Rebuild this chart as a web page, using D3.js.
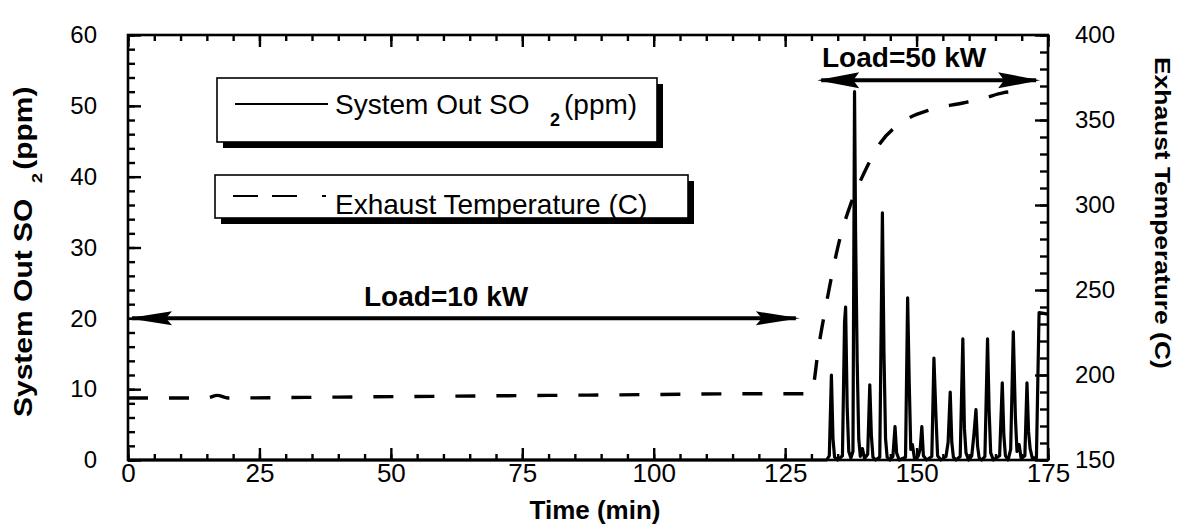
<!DOCTYPE html>
<html>
<head>
<meta charset="utf-8">
<script src="https://cdn.jsdelivr.net/npm/d3@7"></script>
<style>
  html, body { margin: 0; padding: 0; background: #fff; }
  svg { display: block; font-family: Arial, "Liberation Sans", Helvetica, sans-serif; }
</style>
</head>
<body>
<svg id="chart" width="1185" height="531"></svg>
<script>
// ---- data -------------------------------------------------------------
const timeTicks = [0, 25, 50, 75, 100, 125, 150, 175];
const so2Ticks  = [0, 10, 20, 30, 40, 50, 60];
const tempTicks = [150, 200, 250, 300, 350, 400];

// SO2 at the system outlet (ppm) against time (min)
const so2Time = [0, 132.9, 133.4, 133.8, 134.1, 134.4, 135.0,
  135.9, 136.3, 136.5, 136.8, 137.1, 137.5,
  137.9, 138.2, 138.4, 138.7, 139.0, 139.3, 139.7, 140.1,
  140.7, 141.1, 141.4, 141.7, 142.2,
  143.0, 143.5, 143.8, 144.1, 144.4, 144.9,
  145.5, 145.9, 146.2, 146.7,
  147.9, 148.3, 148.6, 148.9, 149.2, 149.6,
  150.3, 150.7, 151.0, 151.3, 151.9,
  152.9, 153.3, 153.7, 154.0, 154.6,
  155.6, 156.0, 156.4, 156.7, 157.0, 157.5,
  158.3, 158.8, 159.1, 159.4, 159.9,
  160.5, 160.9, 161.3, 161.6, 161.9, 162.4,
  163.0, 163.5, 163.8, 164.1, 164.6,
  165.8, 166.3, 166.6, 166.9, 167.4,
  167.9, 168.4, 168.8, 169.1, 169.5, 169.9,
  170.6, 171.0, 171.3, 171.6, 172.0,
  172.8, 173.3, 175.0];
const so2Ppm = [0, 0, 0.6, 12.0, 3.0, 0.4, 0,
  0.6, 19.5, 21.6, 7.5, 1.2, 0.3,
  1.2, 52.0, 32.0, 14.0, 3.0, 0.5, 1.6, 0.2,
  0.8, 10.6, 3.5, 0.4, 0,
  0.4, 34.9, 15.0, 3.0, 0.4, 0,
  0.5, 4.7, 1.0, 0,
  0.4, 22.9, 11.0, 1.5, 2.2, 0.2,
  0.5, 1.6, 4.7, 0.6, 0,
  0.5, 14.4, 6.0, 0.6, 0,
  0.5, 2.5, 9.6, 2.5, 0.4, 0,
  0.5, 17.1, 4.5, 1.0, 0,
  0.6, 3.5, 7.1, 2.0, 0.3, 0,
  0.5, 17.1, 7.0, 1.0, 0,
  0.6, 10.9, 3.5, 0.6, 0,
  1.5, 18.1, 6.0, 1.2, 2.2, 0.2,
  0.6, 10.9, 4.0, 1.6, 0.3,
  0.3, 20.8, 20.6];

// Exhaust temperature (C) against time (min)
const tempTime = [0, 15, 17, 19, 40, 60, 80, 100, 120, 129.5,
  130.3, 131.3, 132.6, 133.9, 135.4, 137.3, 140.2, 143.0, 146.9,
  152.6, 158.8, 163.0, 166.4, 170.0];
const tempC = [186.5, 186.5, 188, 186.5, 187, 187.5, 188, 188.5, 189, 189,
  193, 215, 238, 259, 280, 299, 320, 336, 348,
  356, 360, 363, 366, 367];

// ---- layout -----------------------------------------------------------
const svg = d3.select("#chart");
const plotLeft = 128, plotRight = 1048, plotTop = 35, plotBottom = 460;

const x  = d3.scaleLinear().domain([0, 175]).range([plotLeft, plotRight]);
const yL = d3.scaleLinear().domain([0, 60]).range([plotBottom, plotTop]);
const yR = d3.scaleLinear().domain([150, 400]).range([plotBottom, plotTop]);

const minor = (a, b, step) => d3.range(a, b + 1e-9, step);

function styleAxis(g, fontSize) {
  g.select(".domain").remove();
  g.selectAll(".tick line").attr("stroke", "#000").attr("stroke-width", 2.4);
  g.selectAll(".tick text").attr("fill", "#000")
    .style("font-size", fontSize + "px")
    .style("font-family", "Arial, 'Liberation Sans', Helvetica, sans-serif");
}

// bottom axis
svg.append("g").attr("transform", `translate(0,${plotBottom})`)
  .call(d3.axisBottom(x).tickValues(minor(0, 175, 5)).tickFormat("").tickSize(-6).tickSizeOuter(0))
  .call(g => styleAxis(g, 26));
svg.append("g").attr("transform", `translate(0,${plotBottom})`)
  .call(d3.axisBottom(x).tickValues(timeTicks).tickFormat(d3.format("d")).tickSize(-12).tickPadding(4).tickSizeOuter(0))
  .call(g => styleAxis(g, 26));

// top axis (ticks only)
svg.append("g").attr("transform", `translate(0,${plotTop})`)
  .call(d3.axisTop(x).tickValues(minor(0, 175, 5)).tickFormat("").tickSize(-6).tickSizeOuter(0))
  .call(g => styleAxis(g, 26));
svg.append("g").attr("transform", `translate(0,${plotTop})`)
  .call(d3.axisTop(x).tickValues(timeTicks).tickFormat("").tickSize(-12).tickSizeOuter(0))
  .call(g => styleAxis(g, 26));

// left axis
svg.append("g").attr("transform", `translate(${plotLeft},0)`)
  .call(d3.axisLeft(yL).tickValues(minor(0, 60, 2)).tickFormat("").tickSize(-7).tickSizeOuter(0))
  .call(g => styleAxis(g, 24));
svg.append("g").attr("transform", `translate(${plotLeft},0)`)
  .call(d3.axisLeft(yL).tickValues(so2Ticks).tickFormat(d3.format("d")).tickSize(-13).tickPadding(31).tickSizeOuter(0))
  .call(g => styleAxis(g, 24));

// right axis
svg.append("g").attr("transform", `translate(${plotRight},0)`)
  .call(d3.axisRight(yR).tickValues(minor(150, 400, 10)).tickFormat("").tickSize(-8).tickSizeOuter(0))
  .call(g => styleAxis(g, 24));
svg.append("g").attr("transform", `translate(${plotRight},0)`)
  .call(d3.axisRight(yR).tickValues(tempTicks).tickFormat(d3.format("d")).tickSize(-13).tickPadding(27).tickSizeOuter(0))
  .call(g => styleAxis(g, 24));

// frame
svg.append("rect")
  .attr("x", plotLeft).attr("y", plotTop)
  .attr("width", plotRight - plotLeft).attr("height", plotBottom - plotTop)
  .attr("fill", "none").attr("stroke", "#000").attr("stroke-width", 2.6);

// ---- series -----------------------------------------------------------
const tempLine = d3.line()
  .x((d, i) => x(tempTime[i]))
  .y(d => yR(d))
  .curve(d3.curveMonotoneX);
svg.append("path")
  .attr("d", tempLine(tempC))
  .attr("fill", "none").attr("stroke", "#000")
  .attr("stroke-width", 3.4).attr("stroke-dasharray", "20,21");

const so2Line = d3.line()
  .x((d, i) => x(so2Time[i]))
  .y(d => yL(d));
svg.append("path")
  .attr("d", so2Line(so2Ppm))
  .attr("fill", "none").attr("stroke", "#000")
  .attr("stroke-width", 3.2).attr("stroke-linejoin", "round");

// ---- load annotations -------------------------------------------------
function doubleArrow(t0, t1, yVal, headLen, headHalf) {
  const xa = x(t0), xb = x(t1), yy = yL(yVal);
  const g = svg.append("g");
  g.append("line").attr("x1", xa + 4).attr("x2", xb - 4).attr("y1", yy).attr("y2", yy)
    .attr("stroke", "#000").attr("stroke-width", 4);
  g.append("path").attr("d",
      `M${xa},${yy} L${xa + headLen},${yy - headHalf} L${xa + headLen - 6},${yy} L${xa + headLen},${yy + headHalf} Z`)
    .attr("fill", "#000");
  g.append("path").attr("d",
      `M${xb},${yy} L${xb - headLen},${yy - headHalf} L${xb - headLen + 6},${yy} L${xb - headLen},${yy + headHalf} Z`)
    .attr("fill", "#000");
}
doubleArrow(0, 127.8, 20, 44, 7);
doubleArrow(131.1, 173.5, 53.6, 42, 8);

svg.append("text").attr("x", 364).attr("y", 306)
  .style("font-size", "28px").style("font-weight", "bold").text("Load=10 kW");
svg.append("text").attr("x", 822).attr("y", 67)
  .style("font-size", "28px").style("font-weight", "bold").text("Load=50 kW");

// ---- legend -----------------------------------------------------------
function legendBox(x0, y0, w, h) {
  svg.append("rect").attr("x", x0 + 6).attr("y", y0 + 6).attr("width", w).attr("height", h)
    .attr("fill", "#000");
  svg.append("rect").attr("x", x0).attr("y", y0).attr("width", w).attr("height", h)
    .attr("fill", "#fff").attr("stroke", "#000").attr("stroke-width", 1.6);
}
legendBox(217, 78, 440, 64);
legendBox(215, 175, 473, 43);

svg.append("line").attr("x1", 235).attr("x2", 328).attr("y1", 104).attr("y2", 104)
  .attr("stroke", "#000").attr("stroke-width", 1.8);
const lg1 = svg.append("text").attr("y", 114).style("font-size", "28px");
lg1.append("tspan").attr("x", 335).text("System Out SO");
lg1.append("tspan").attr("x", 550).attr("y", 126).style("font-size", "18px").style("font-weight", "bold").text("2");
lg1.append("tspan").attr("x", 564).attr("y", 114).text("(ppm)");

svg.append("line").attr("x1", 233).attr("x2", 328).attr("y1", 196).attr("y2", 196)
  .attr("stroke", "#000").attr("stroke-width", 2.2).attr("stroke-dasharray", "25,14,25,25,4,6");
svg.append("text").attr("x", 335).attr("y", 214).style("font-size", "28px")
  .text("Exhaust Temperature (C)");

// ---- axis titles ------------------------------------------------------
svg.append("text").attr("x", 595).attr("y", 519)
  .attr("text-anchor", "middle")
  .style("font-size", "26px").style("font-weight", "bold").text("Time (min)");

const lt = svg.append("g").attr("transform", "translate(32,417) rotate(-90) scale(1.2,1)")
  .append("text").style("font-size", "25px").style("font-weight", "bold");
lt.append("tspan").attr("x", 0).attr("y", 0).text("System Out SO");
lt.append("tspan").attr("x", 195).attr("y", 10).style("font-size", "15px").text("2");
lt.append("tspan").attr("x", 206).attr("y", 0).text("(ppm)");

svg.append("g").attr("transform", "translate(1155,57) rotate(90) scale(1.2,1)")
  .append("text").attr("x", 0).attr("y", 0)
  .style("font-size", "22px").style("font-weight", "bold")
  .text("Exhaust Temperature (C)");
</script>
</body>
</html>
